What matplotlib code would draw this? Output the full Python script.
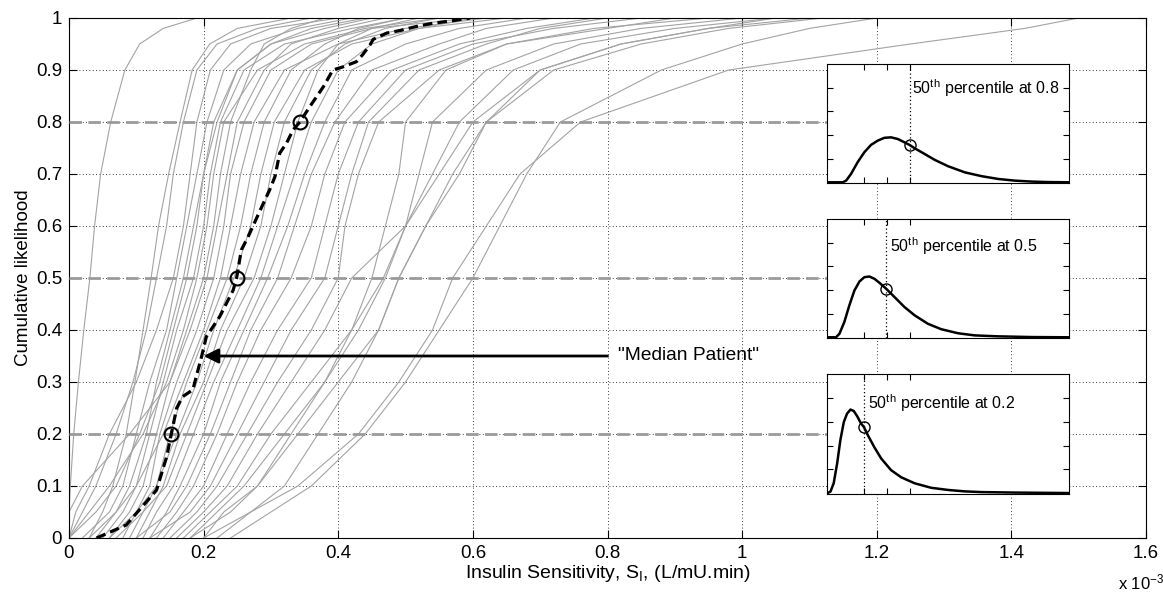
import numpy as np
import matplotlib
matplotlib.use('Agg')
from matplotlib import pyplot as plt

plt.rcParams['font.family'] = ['Liberation Sans', 'DejaVu Sans']
plt.rcParams['mathtext.default'] = 'regular'

# niveles de probabilidad acumulada donde se leyo cada curva de paciente
cdf_levels = [0, 0.05, 0.1, 0.2, 0.3, 0.4, 0.5, 0.6, 0.7, 0.8, 0.9, 0.95, 0.98, 1.0]

# S_I (x 1e-3) de cada paciente (32 pacientes) en cada nivel
si_000 = [0, .03, 0, 0, .02, 0, .05, 0, .06, 0, .08, .04, .09, .06, .10, .07, .11, .12, .10, .13, .14, .12, .15, .16, .17, .18, .20, .18, .24, .20, .22, .03]
si_005 = [0, .05, .02, .01, .06, .04, .08, .03, .09, 0, .10, .07, .11, .10, .12, .11, .13, .145, .15, .16, .17, .18, .19, .20, .21, .22, .23, .24, .30, .27, .27, .07]
si_010 = [.002, .065, .04, .03, .08, .07, .10, .06, .11, .02, .12, .10, .13, .13, .14, .145, .155, .165, .175, .185, .20, .21, .22, .235, .25, .26, .28, .28, .36, .34, .32, .09]
si_020 = [.007, .085, .07, .06, .10, .105, .12, .11, .13, .09, .135, .14, .15, .16, .165, .175, .185, .20, .21, .22, .235, .25, .265, .28, .30, .32, .34, .33, .44, .43, .37, .115]
si_030 = [.014, .098, .095, .10, .12, .135, .14, .145, .15, .15, .16, .17, .175, .19, .20, .205, .215, .225, .24, .25, .27, .29, .31, .33, .36, .38, .40, .38, .50, .49, .42, .13]
si_040 = [.022, .11, .115, .13, .145, .155, .16, .17, .175, .18, .19, .20, .205, .215, .225, .235, .25, .26, .27, .285, .31, .33, .36, .38, .42, .43, .46, .42, .55, .54, .46, .15]
si_050 = [.031, .122, .13, .155, .16, .175, .185, .19, .20, .205, .215, .225, .235, .245, .26, .275, .285, .295, .31, .33, .36, .38, .40, .42, .45, .47, .49, .467, .60, .57, .49, .17]
si_060 = [.038, .133, .145, .17, .175, .19, .20, .205, .215, .22, .23, .24, .255, .27, .285, .30, .31, .325, .335, .36, .38, .40, .41, .50, .47, .50, .53, .50, .64, .62, .53, .185]
si_070 = [.047, .148, .155, .18, .19, .20, .21, .215, .225, .235, .24, .255, .27, .285, .30, .32, .335, .35, .36, .38, .40, .42, .43, .52, .49, .54, .58, .55, .68, .67, .57, .20]
si_080 = [.062, .165, .17, .19, .205, .215, .225, .23, .24, .25, .26, .275, .29, .305, .32, .34, .36, .38, .395, .41, .43, .445, .46, .54, .50, .58, .62, .60, .73, .76, .62, .22]
si_090 = [.083, .183, .19, .21, .23, .25, .26, .28, .27, .29, .30, .32, .33, .35, .36, .37, .40, .42, .45, .48, .50, .52, .55, .62, .56, .66, .70, .70, .88, .98, .72, .25]
si_095 = [.105, .209, .22, .24, .27, .30, .32, .35, .29, .33, .36, .40, .38, .42, .41, .40, .45, .50, .55, .58, .60, .62, .65, .72, .65, .76, .82, .82, 1.0, 1.25, .85, .30]
si_098 = [.14, .25, .28, .30, .34, .38, .42, .44, .33, .40, .45, .50, .43, .52, .47, .45, .52, .58, .62, .68, .72, .70, .78, .85, .80, .90, .95, .95, 1.1, 1.42, .98, .36]
si_100 = [.19, .33, .36, .40, .42, .45, .50, .55, .38, .47, .60, .62, .50, .65, .55, .52, .60, .68, .72, .78, .85, .80, .95, 1.0, .90, 1.05, 1.1, 1.05, 1.2, 1.5, 1.12, .44]

# "Median Patient"
median_si = [0.041, 0.085, 0.13, 0.145, 0.152, 0.160, 0.169, 0.184, 0.189, 0.197, 0.204, 0.224, 0.244, 0.249,
             0.256, 0.266, 0.273, 0.291, 0.298, 0.306, 0.313, 0.323, 0.333, 0.343, 0.358, 0.378, 0.392,
             0.407, 0.427, 0.436, 0.447, 0.452, 0.472, 0.492, 0.517, 0.541, 0.571, 0.596]
median_cdf = [0.0, 0.025, 0.092, 0.156, 0.2, 0.25, 0.272, 0.285, 0.31, 0.349, 0.387, 0.426, 0.477, 0.5,
              0.554, 0.579, 0.599, 0.65, 0.669, 0.695, 0.74, 0.759, 0.785, 0.8, 0.83, 0.868, 0.9,
              0.906, 0.916, 0.929, 0.948, 0.959, 0.971, 0.976, 0.984, 0.99, 0.995, 1.0]
marked_cdf = [0.2, 0.5, 0.8]
marked_si = [0.152, 0.249, 0.343]

# insets: densidad (unidades arbitrarias)
pdf_x_08 = [0, 0.68, 0.83, 1.04, 1.33, 1.62, 1.91, 2.20, 2.49, 2.78, 3.07, 3.36, 3.58, 3.80, 4.23, 4.67, 5.25, 5.98, 6.70, 7.43, 8.15, 8.88, 9.60, 10.5]
pdf_y_08 = [0, 0, 0.07, 0.35, 0.85, 1.27, 1.58, 1.76, 1.88, 1.90, 1.83, 1.69, 1.58, 1.44, 1.20, 0.95, 0.68, 0.42, 0.26, 0.14, 0.07, 0.03, 0.01, 0]
pdf_x_05 = [0, 0.39, 0.54, 0.75, 0.97, 1.19, 1.41, 1.62, 1.84, 2.06, 2.28, 2.57, 2.93, 3.36, 3.80, 4.38, 4.96, 5.69, 6.41, 7.43, 8.88, 10.5]
pdf_y_05 = [0, 0, 0.15, 0.64, 1.35, 1.98, 2.36, 2.54, 2.57, 2.47, 2.30, 2.05, 1.70, 1.28, 0.93, 0.57, 0.34, 0.17, 0.08, 0.04, 0.01, 0]
pdf_x_02 = [0, 0.15, 0.29, 0.44, 0.58, 0.73, 0.87, 1.02, 1.16, 1.31, 1.48, 1.60, 1.77, 2.06, 2.35, 2.78, 3.22, 3.80, 4.52, 5.25, 5.98, 6.70, 8.15, 10.5]
pdf_y_02 = [0, 0.07, 0.42, 1.25, 2.23, 2.99, 3.34, 3.51, 3.45, 3.23, 2.92, 2.78, 2.44, 1.92, 1.46, 0.97, 0.67, 0.42, 0.23, 0.14, 0.08, 0.05, 0.03, 0.01]
pdf_median_x = [3.58, 2.57, 1.60]
pdf_median_y = [1.58, 2.05, 2.78]
pdf_labels = ['0.8', '0.5', '0.2']

fig = plt.figure(figsize=(11.63, 5.93), dpi=100)
W, H = 1163, 593
ax = fig.add_axes([69 / W, 1 - 538 / H, (1146 - 69) / W, (538 - 18) / H])

ax.grid(True, linestyle=(0, (1, 3)), color='black', linewidth=0.6)
ax.set_axisbelow(True)

table = np.array([si_000, si_005, si_010, si_020, si_030, si_040, si_050, si_060,
                  si_070, si_080, si_090, si_095, si_098, si_100])
for curve in table.T:
    ax.plot(curve, cdf_levels, color='#a3a3a3', linewidth=0.8, zorder=2)

for level in marked_cdf:
    ax.plot([0, 1.2], [level, level], color='#9a9a9a', linewidth=2,
            dashes=(4.5, 2.3), zorder=3)

ax.plot(median_si, median_cdf, color='black', linewidth=2.3, dashes=(3, 1.6), zorder=4)
ax.plot(marked_si, marked_cdf, 'o', markersize=10, markerfacecolor='none',
        markeredgecolor='black', markeredgewidth=1.5, zorder=5)

ax.annotate('', xy=(0.2, 0.35), xytext=(0.8, 0.35),
            arrowprops=dict(arrowstyle='-|>', color='black', lw=2, mutation_scale=22,
                            shrinkA=0, shrinkB=0), zorder=6)
ax.text(0.815, 0.35, '"Median Patient"', fontsize=13.8, va='center', ha='left', zorder=6)

ax.set_xlim(0, 1.6)
ax.set_ylim(0, 1)
ax.set_xticks(np.arange(0, 1.61, 0.2))
ax.set_xticklabels(['0', '0.2', '0.4', '0.6', '0.8', '1', '1.2', '1.4', '1.6'])
ax.set_yticks(np.arange(0, 1.01, 0.1))
ax.set_yticklabels(['0', '0.1', '0.2', '0.3', '0.4', '0.5', '0.6', '0.7', '0.8', '0.9', '1'])
ax.tick_params(direction='in', top=True, right=True, length=6, labelsize=13.5, pad=5)
ax.set_xlabel('Insulin Sensitivity, S$_I$, (L/mU.min)', fontsize=14, labelpad=1)
ax.set_ylabel('Cumulative likelihood', fontsize=13.5, labelpad=3)
fig.text(1118 / W, 1 - 582 / H, 'x 10$^{-3}$', fontsize=12, va='center', ha='left')

# insets
inset_boxes = [(64, 183), (219, 338), (374, 494)]
inset_text_pos = [(0.35, 0.80), (0.26, 0.775), (0.17, 0.76)]
pdfs = [(pdf_x_08, pdf_y_08), (pdf_x_05, pdf_y_05), (pdf_x_02, pdf_y_02)]
for i, (top, bottom) in enumerate(inset_boxes):
    iax = fig.add_axes([827 / W, 1 - bottom / H, (1069 - 827) / W, (bottom - top) / H])
    iax.set_facecolor('white')
    px, py = pdfs[i]
    iax.plot(px, py, color='black', linewidth=1.8)
    iax.axvline(pdf_median_x[i], color='black', linestyle=(0, (1, 2)), linewidth=0.9)
    iax.plot(pdf_median_x[i], pdf_median_y[i], 'o', markersize=8, markerfacecolor='none',
             markeredgecolor='black', markeredgewidth=1)
    iax.set_xlim(0, 10.5)
    iax.set_ylim(-0.03, 5)
    iax.set_xticks([1.6, 2.6, 3.6])
    iax.set_yticks([1, 2, 3, 4])
    iax.tick_params(direction='in', top=True, right=True, length=4,
                    labelbottom=False, labelleft=False)
    tx, ty = inset_text_pos[i]
    iax.text(tx, ty, '50$^{th}$ percentile at ' + pdf_labels[i], transform=iax.transAxes,
             fontsize=11.5, va='center', ha='left')

fig.savefig('out.png', dpi=100)
